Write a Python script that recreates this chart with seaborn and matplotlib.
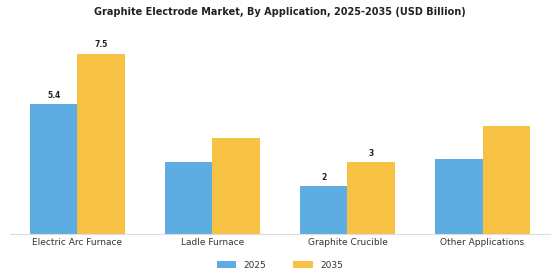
import pandas as pd
import seaborn as sns
import matplotlib.pyplot as plt

# valeurs (USD Billion)
applications = ["Electric Arc Furnace", "Ladle Furnace", "Graphite Crucible", "Other Applications"]
values_2025 = [5.4, 3.0, 2.0, 3.1]
values_2035 = [7.5, 4.0, 3.0, 4.5]
labels_2025 = ["5.4", "", "2", ""]
labels_2035 = ["7.5", "", "3", ""]

df = pd.DataFrame({
    "Application": applications * 2,
    "Year": ["2025"] * 4 + ["2035"] * 4,
    "Value": values_2025 + values_2035,
})

sns.set_style("white")
fig = plt.figure(figsize=(5.6, 2.8), dpi=100)
ax = fig.add_axes([10 / 560, 46 / 280, 540 / 560, 196 / 280])

sns.barplot(data=df, x="Application", y="Value", hue="Year",
            palette={"2025": "#5DADE2", "2035": "#F7C244"},
            width=0.7, saturation=1, linewidth=0, ax=ax, legend=True)

for cont, labs in zip(ax.containers, [labels_2025, labels_2035]):
    ax.bar_label(cont, labels=labs, padding=3, fontsize=5.5, fontweight="bold", color="#222222")

ax.set_xlim(-0.5, 3.5)
ax.set_ylim(0, 8.15)
ax.set_xlabel("")
ax.set_ylabel("")
ax.set_yticks([])
for s in ["top", "right", "left"]:
    ax.spines[s].set_visible(False)
ax.spines["bottom"].set_color("#dddddd")
ax.spines["bottom"].set_linewidth(0.8)
ax.tick_params(axis="x", length=0, labelsize=6.5, labelcolor="#333333", pad=3)

ax.legend(loc="upper center", bbox_to_anchor=(0.5, -0.095), ncol=2, frameon=False,
          fontsize=6.5, handlelength=2.2, handleheight=0.9, columnspacing=3)
for t in ax.get_legend().get_texts():
    t.set_color("#333333")

fig.suptitle("Graphite Electrode Market, By Application, 2025-2035 (USD Billion)",
             x=0.5, y=0.975, fontsize=7, fontweight="bold", color="#222222")

fig.savefig("out.png", dpi=100)
